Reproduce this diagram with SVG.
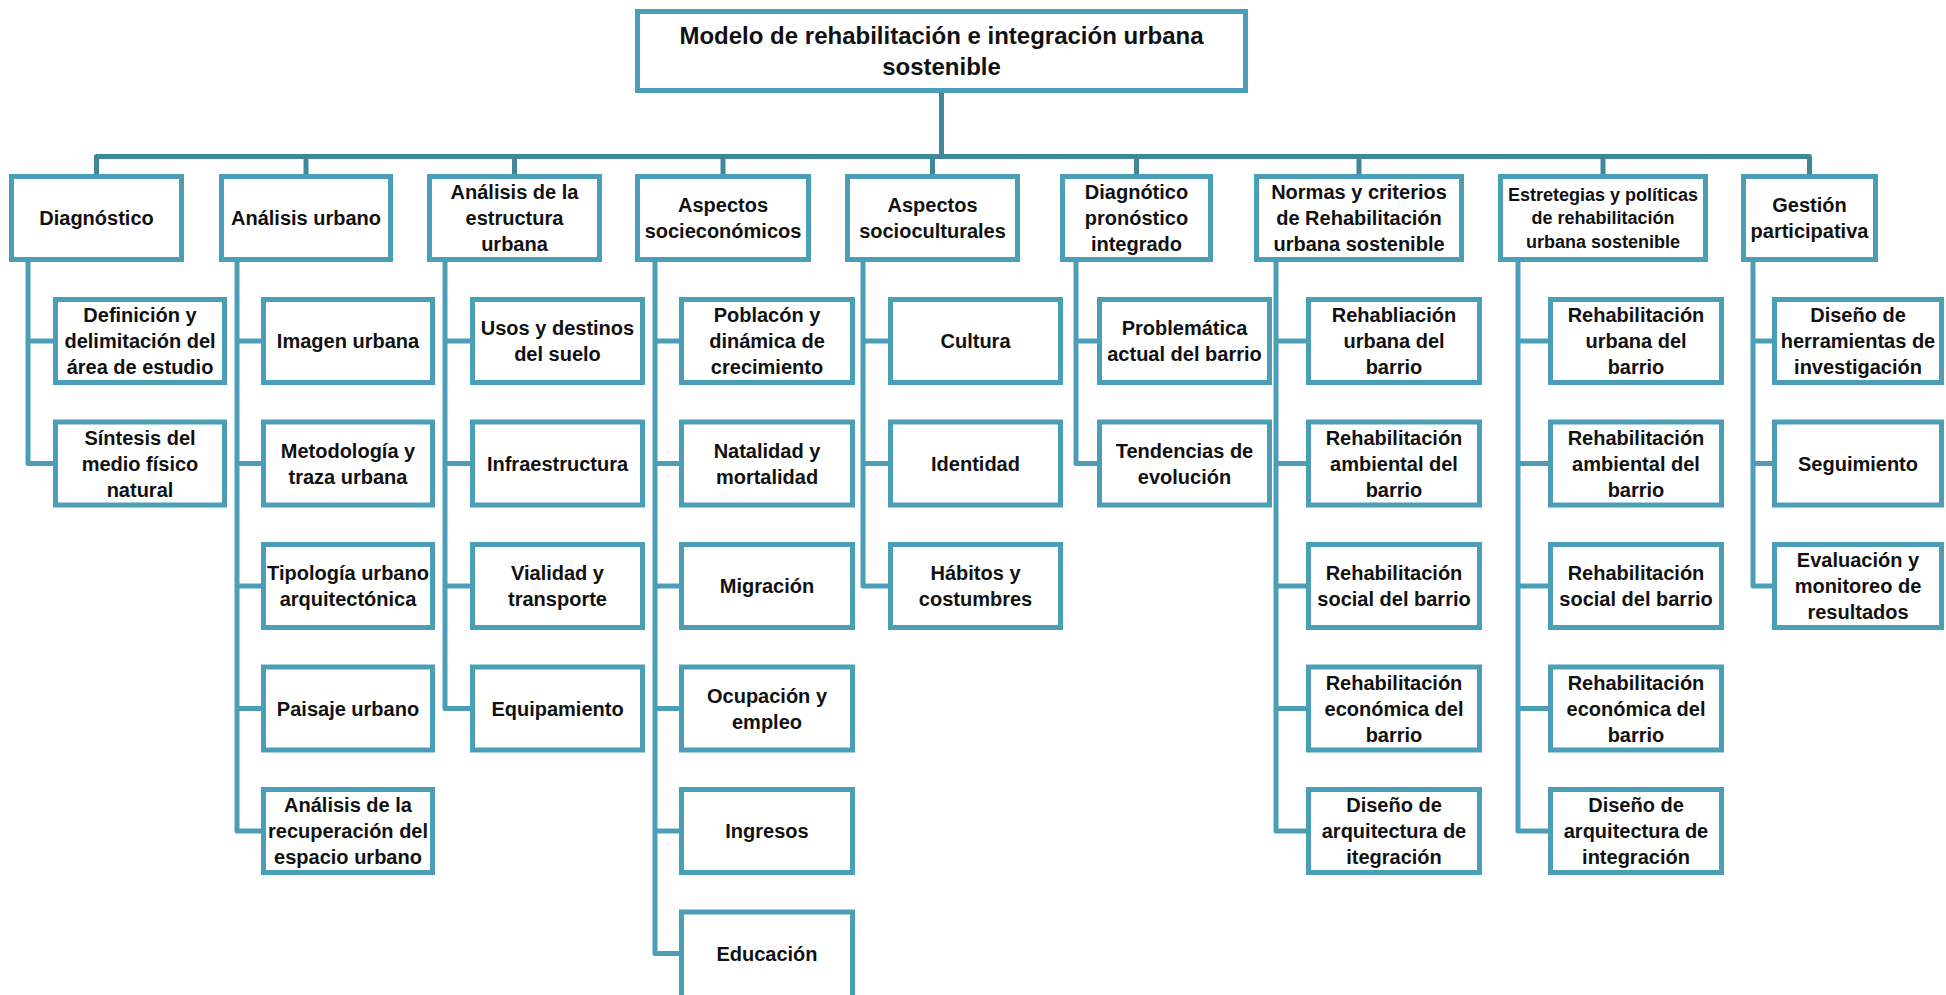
<svg xmlns="http://www.w3.org/2000/svg" width="1946" height="995" viewBox="0 0 1946 995">
<style>
.bx{fill:#fff;stroke:#4a9eb6;stroke-width:5}
.cn{fill:none;stroke:#4a9eb6;stroke-width:5;stroke-linejoin:round}
.bus{fill:none;stroke:#3e889a;stroke-width:5;stroke-linejoin:round}
text{font-family:"Liberation Sans",Arial,sans-serif;font-weight:bold;font-size:20px;fill:#111;text-anchor:middle}
.t{font-size:24px}
.s{font-size:18px}
</style>
<rect width="1946" height="995" fill="#fff"/>
<g id="connectors">
<path class="bus" d="M941.5 93V156.5M96.5 176V156.5H1809.5V176M306 156.5V176M514.5 156.5V176M723 156.5V176M932.5 156.5V176M1136.5 156.5V176M1359 156.5V176M1603 156.5V176"/>
<path class="cn" d="M28 262V463.5H53M28 341H53"/>
<path class="cn" d="M237 262V831H261M237 341H261M237 463.5H261M237 586H261M237 708.5H261"/>
<path class="cn" d="M445 262V708.5H470M445 341H470M445 463.5H470M445 586H470"/>
<path class="cn" d="M655 262V953.5H679M655 341H679M655 463.5H679M655 586H679M655 708.5H679M655 831H679"/>
<path class="cn" d="M863 262V586H888M863 341H888M863 463.5H888"/>
<path class="cn" d="M1076 262V463.5H1097M1076 341H1097"/>
<path class="cn" d="M1276 262V831H1306M1276 341H1306M1276 463.5H1306M1276 586H1306M1276 708.5H1306"/>
<path class="cn" d="M1518 262V831H1548M1518 341H1548M1518 463.5H1548M1518 586H1548M1518 708.5H1548"/>
<path class="cn" d="M1753 262V586H1772M1753 341H1772M1753 463.5H1772"/>
</g>
<g id="root"><rect class="bx" x="637.5" y="11.5" width="608" height="79"/><text class="t" x="941.5" y="43.5">Modelo de rehabilitación e integración urbana</text><text class="t" x="941.5" y="74.5">sostenible</text></g>
<g id="n1"><rect class="bx" x="11.5" y="176.5" width="170" height="83"/><text x="96.5" y="225">Diagnóstico</text></g>
<g id="n2"><rect class="bx" x="221.5" y="176.5" width="169" height="83"/><text x="306" y="225">Análisis urbano</text></g>
<g id="n3"><rect class="bx" x="429.5" y="176.5" width="170" height="83"/><text x="514.5" y="199">Análisis de la</text><text x="514.5" y="225">estructura</text><text x="514.5" y="251">urbana</text></g>
<g id="n4"><rect class="bx" x="637.5" y="176.5" width="171" height="83"/><text x="723" y="212">Aspectos</text><text x="723" y="238">socieconómicos</text></g>
<g id="n5"><rect class="bx" x="847.5" y="176.5" width="170" height="83"/><text x="932.5" y="212">Aspectos</text><text x="932.5" y="238">socioculturales</text></g>
<g id="n6"><rect class="bx" x="1062.5" y="176.5" width="148" height="83"/><text x="1136.5" y="199">Diagnótico</text><text x="1136.5" y="225">pronóstico</text><text x="1136.5" y="251">integrado</text></g>
<g id="n7"><rect class="bx" x="1256.5" y="176.5" width="205" height="83"/><text x="1359" y="199">Normas y criterios</text><text x="1359" y="225">de Rehabilitación</text><text x="1359" y="251">urbana sostenible</text></g>
<g id="n8"><rect class="bx" x="1500.5" y="176.5" width="205" height="83"/><text class="s" x="1603" y="200.5">Estretegias y políticas</text><text class="s" x="1603" y="224">de rehabilitación</text><text class="s" x="1603" y="247.5">urbana sostenible</text></g>
<g id="n9"><rect class="bx" x="1743.5" y="176.5" width="132" height="83"/><text x="1809.5" y="212">Gestión</text><text x="1809.5" y="238">participativa</text></g>

<g id="n1a"><rect class="bx" x="55.5" y="299.5" width="169" height="83"/><text x="140" y="322">Definición y</text><text x="140" y="348">delimitación del</text><text x="140" y="374">área de estudio</text></g>
<g id="n1b"><rect class="bx" x="55.5" y="422" width="169" height="83"/><text x="140" y="444.5">Síntesis del</text><text x="140" y="470.5">medio físico</text><text x="140" y="496.5">natural</text></g>

<g id="n2a"><rect class="bx" x="263.5" y="299.5" width="169" height="83"/><text x="348" y="348">Imagen urbana</text></g>
<g id="n2b"><rect class="bx" x="263.5" y="422" width="169" height="83"/><text x="348" y="457.5">Metodología y</text><text x="348" y="483.5">traza urbana</text></g>
<g id="n2c"><rect class="bx" x="263.5" y="544.5" width="169" height="83"/><text x="348" y="580">Tipología urbano</text><text x="348" y="606">arquitectónica</text></g>
<g id="n2d"><rect class="bx" x="263.5" y="667" width="169" height="83"/><text x="348" y="715.5">Paisaje urbano</text></g>
<g id="n2e"><rect class="bx" x="263.5" y="789.5" width="169" height="83"/><text x="348" y="812">Análisis de la</text><text x="348" y="838">recuperación del</text><text x="348" y="864">espacio urbano</text></g>

<g id="n3a"><rect class="bx" x="472.5" y="299.5" width="170" height="83"/><text x="557.5" y="335">Usos y destinos</text><text x="557.5" y="361">del suelo</text></g>
<g id="n3b"><rect class="bx" x="472.5" y="422" width="170" height="83"/><text x="557.5" y="470.5">Infraestructura</text></g>
<g id="n3c"><rect class="bx" x="472.5" y="544.5" width="170" height="83"/><text x="557.5" y="580">Vialidad y</text><text x="557.5" y="606">transporte</text></g>
<g id="n3d"><rect class="bx" x="472.5" y="667" width="170" height="83"/><text x="557.5" y="715.5">Equipamiento</text></g>

<g id="n4a"><rect class="bx" x="681.5" y="299.5" width="171" height="83"/><text x="767" y="322">Poblacón y</text><text x="767" y="348">dinámica de</text><text x="767" y="374">crecimiento</text></g>
<g id="n4b"><rect class="bx" x="681.5" y="422" width="171" height="83"/><text x="767" y="457.5">Natalidad y</text><text x="767" y="483.5">mortalidad</text></g>
<g id="n4c"><rect class="bx" x="681.5" y="544.5" width="171" height="83"/><text x="767" y="593">Migración</text></g>
<g id="n4d"><rect class="bx" x="681.5" y="667" width="171" height="83"/><text x="767" y="702.5">Ocupación y</text><text x="767" y="728.5">empleo</text></g>
<g id="n4e"><rect class="bx" x="681.5" y="789.5" width="171" height="83"/><text x="767" y="838">Ingresos</text></g>
<g id="n4f"><rect class="bx" x="681.5" y="912" width="171" height="90"/><text x="767" y="960.5">Educación</text></g>

<g id="n5a"><rect class="bx" x="890.5" y="299.5" width="170" height="83"/><text x="975.5" y="348">Cultura</text></g>
<g id="n5b"><rect class="bx" x="890.5" y="422" width="170" height="83"/><text x="975.5" y="470.5">Identidad</text></g>
<g id="n5c"><rect class="bx" x="890.5" y="544.5" width="170" height="83"/><text x="975.5" y="580">Hábitos y</text><text x="975.5" y="606">costumbres</text></g>

<g id="n6a"><rect class="bx" x="1099.5" y="299.5" width="170" height="83"/><text x="1184.5" y="335">Problemática</text><text x="1184.5" y="361">actual del barrio</text></g>
<g id="n6b"><rect class="bx" x="1099.5" y="422" width="170" height="83"/><text x="1184.5" y="457.5">Tendencias de</text><text x="1184.5" y="483.5">evolución</text></g>

<g id="n7a"><rect class="bx" x="1308.5" y="299.5" width="171" height="83"/><text x="1394" y="322">Rehabliación</text><text x="1394" y="348">urbana del</text><text x="1394" y="374">barrio</text></g>
<g id="n7b"><rect class="bx" x="1308.5" y="422" width="171" height="83"/><text x="1394" y="444.5">Rehabilitación</text><text x="1394" y="470.5">ambiental del</text><text x="1394" y="496.5">barrio</text></g>
<g id="n7c"><rect class="bx" x="1308.5" y="544.5" width="171" height="83"/><text x="1394" y="580">Rehabilitación</text><text x="1394" y="606">social del barrio</text></g>
<g id="n7d"><rect class="bx" x="1308.5" y="667" width="171" height="83"/><text x="1394" y="689.5">Rehabilitación</text><text x="1394" y="715.5">económica del</text><text x="1394" y="741.5">barrio</text></g>
<g id="n7e"><rect class="bx" x="1308.5" y="789.5" width="171" height="83"/><text x="1394" y="812">Diseño de</text><text x="1394" y="838">arquitectura de</text><text x="1394" y="864">itegración</text></g>

<g id="n8a"><rect class="bx" x="1550.5" y="299.5" width="171" height="83"/><text x="1636" y="322">Rehabilitación</text><text x="1636" y="348">urbana del</text><text x="1636" y="374">barrio</text></g>
<g id="n8b"><rect class="bx" x="1550.5" y="422" width="171" height="83"/><text x="1636" y="444.5">Rehabilitación</text><text x="1636" y="470.5">ambiental del</text><text x="1636" y="496.5">barrio</text></g>
<g id="n8c"><rect class="bx" x="1550.5" y="544.5" width="171" height="83"/><text x="1636" y="580">Rehabilitación</text><text x="1636" y="606">social del barrio</text></g>
<g id="n8d"><rect class="bx" x="1550.5" y="667" width="171" height="83"/><text x="1636" y="689.5">Rehabilitación</text><text x="1636" y="715.5">económica del</text><text x="1636" y="741.5">barrio</text></g>
<g id="n8e"><rect class="bx" x="1550.5" y="789.5" width="171" height="83"/><text x="1636" y="812">Diseño de</text><text x="1636" y="838">arquitectura de</text><text x="1636" y="864">integración</text></g>

<g id="n9a"><rect class="bx" x="1774.5" y="299.5" width="167" height="83"/><text x="1858" y="322">Diseño de</text><text x="1858" y="348">herramientas de</text><text x="1858" y="374">investigación</text></g>
<g id="n9b"><rect class="bx" x="1774.5" y="422" width="167" height="83"/><text x="1858" y="470.5">Seguimiento</text></g>
<g id="n9c"><rect class="bx" x="1774.5" y="544.5" width="167" height="83"/><text x="1858" y="567">Evaluación y</text><text x="1858" y="593">monitoreo de</text><text x="1858" y="619">resultados</text></g>
</svg>
